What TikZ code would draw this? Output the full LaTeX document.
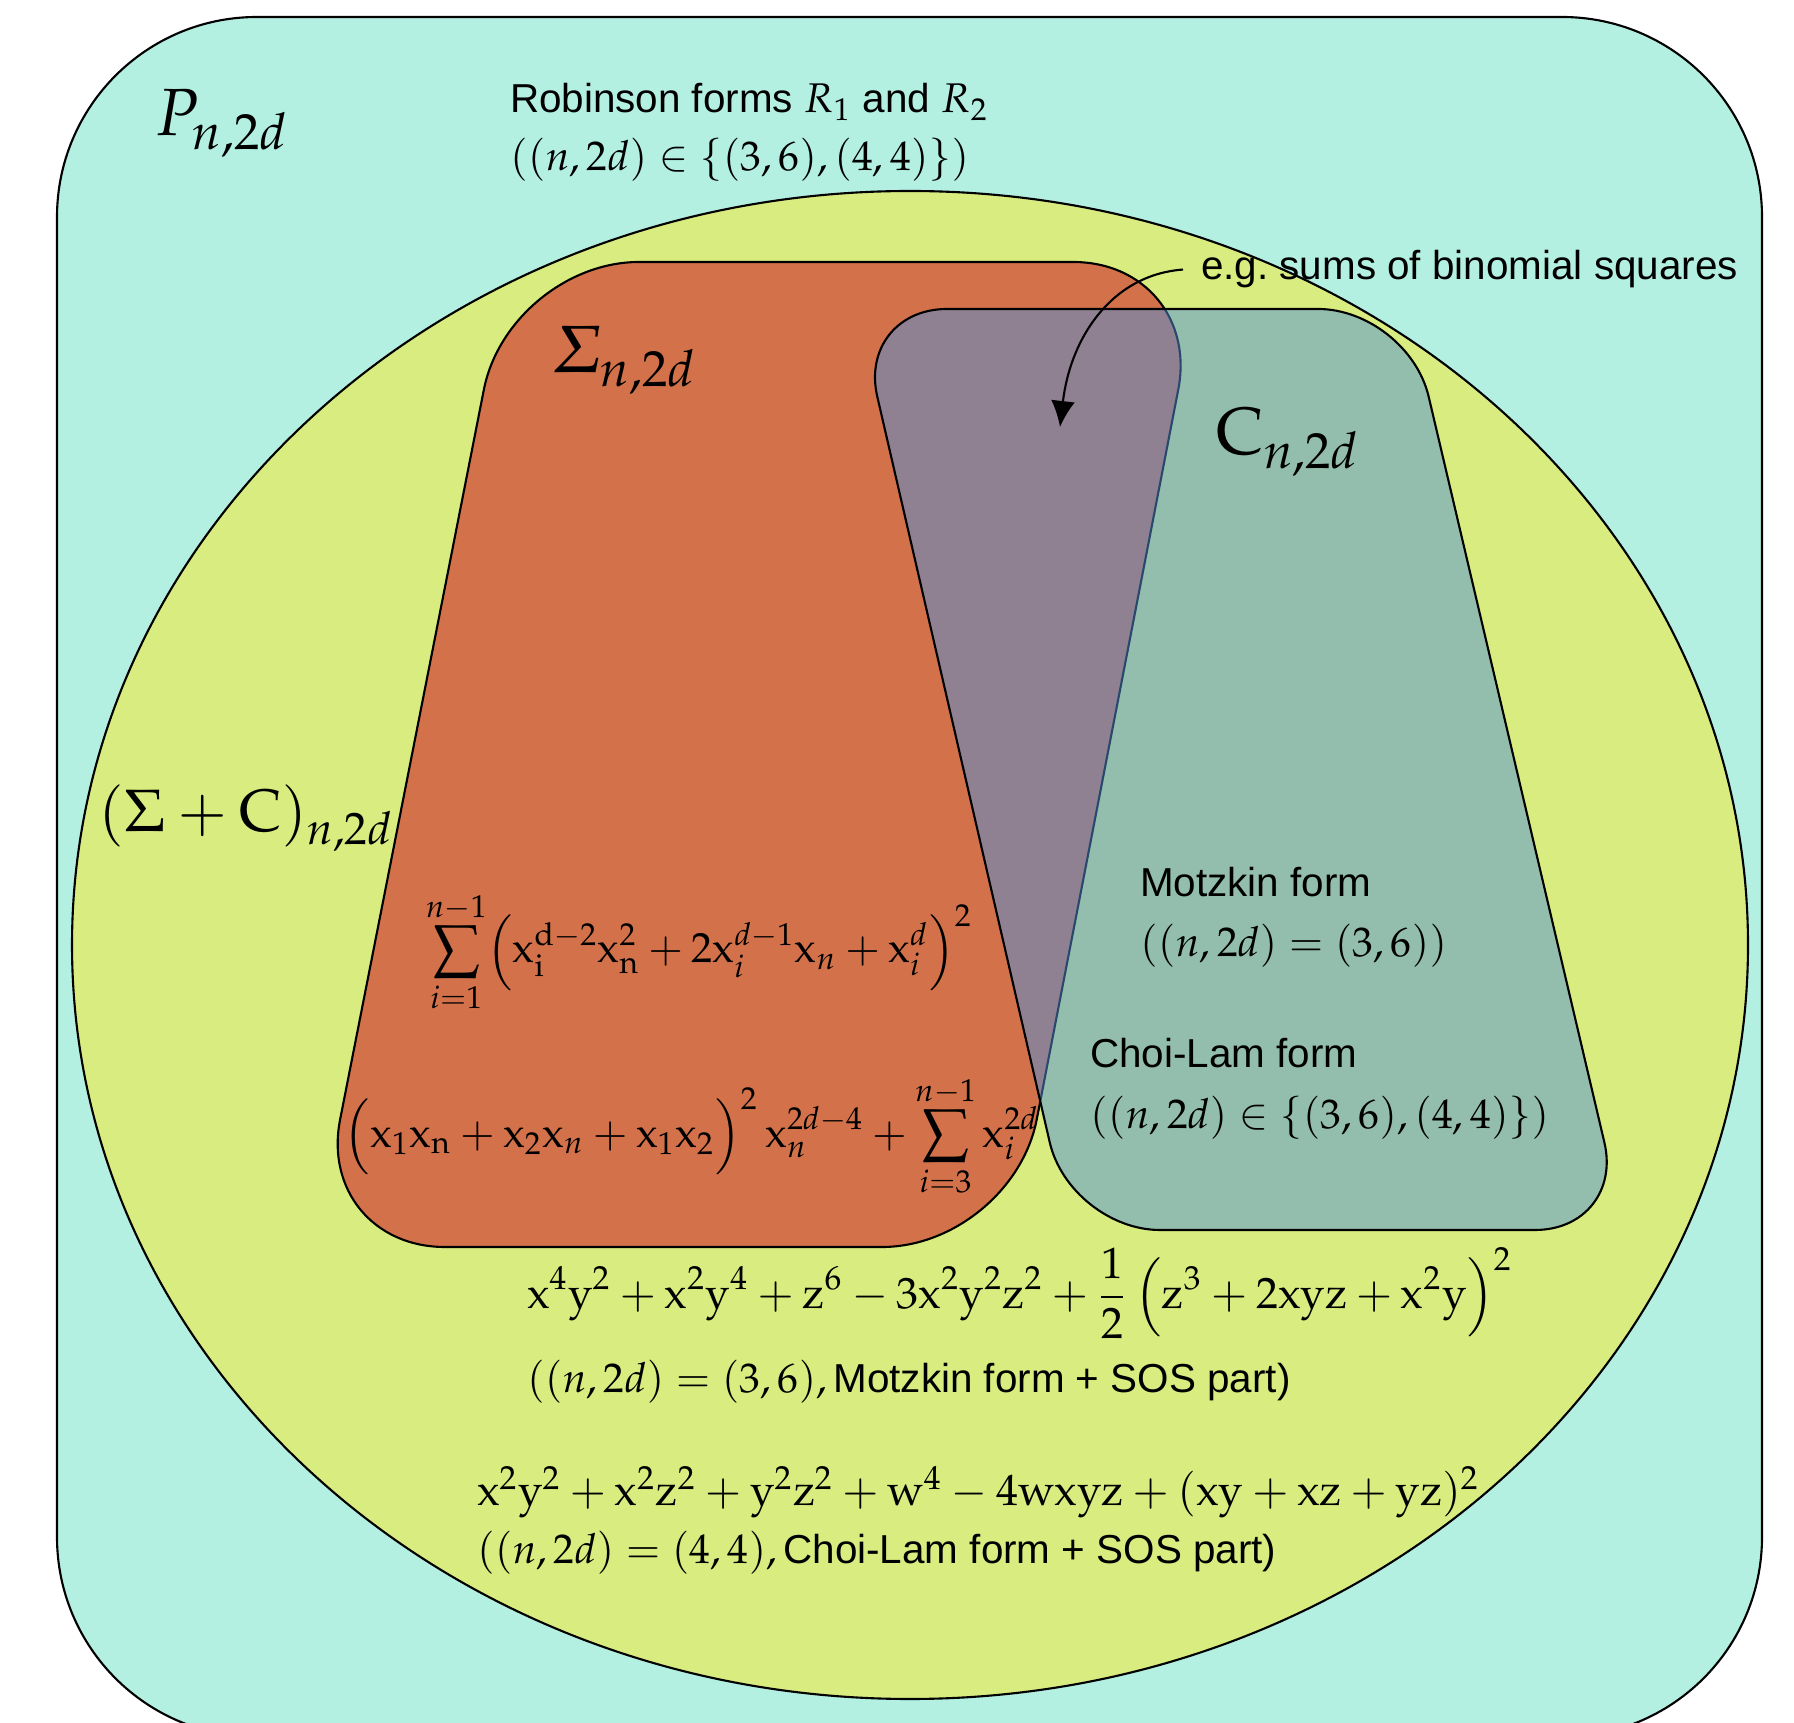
\documentclass[tikz,border=0pt]{standalone}
\usepackage{amsmath}
\usepackage{mathpazo}
\usepackage[no-math]{fontspec}
\setsansfont{Liberation Sans}
\usetikzlibrary{arrows.meta}
\DeclareMathAlphabet{\mathpit}{OT1}{pplx}{m}{it}

\definecolor{mintbg}{RGB}{179,240,226}
\definecolor{sumcone}{RGB}{216,236,128}
\definecolor{soscone}{RGB}{210,113,74}
\definecolor{convcone}{RGB}{80,145,218}
\newcommand{\setm}[1]{{\fontsize{11.8}{14}\selectfont$#1$}}

\begin{document}
\begin{tikzpicture}[
    x=0.1mm, y=-0.1mm,
    line width=0.6pt,
    setbox/.style={draw=black, line width=0.6pt},
    labtext/.style={anchor=base west, inner sep=0pt, font=\fontsize{19}{22}\selectfont},
    formtext/.style={anchor=base west, inner sep=0pt, font=\fontsize{12.5}{15}\selectfont},
    pairtext/.style={anchor=base west, inner sep=0pt, font=\fontsize{11.8}{14}\selectfont},
    sanstext/.style={anchor=base west, inner sep=0pt, font=\sffamily\fontsize{11.5}{14}\selectfont}
]
\useasboundingbox (0,0) rectangle (1794,1723);
\clip (0,0) rectangle (1794,1723);

\filldraw[setbox, fill=mintbg, rounded corners=20mm] (57,17) rectangle (1762,1737);
\filldraw[setbox, fill=sumcone] (910,945) ellipse [x radius=83.8mm, y radius=75.4mm];

\filldraw[setbox, fill=soscone, rounded corners=13mm] (509,262) -- (1203,262) -- (1012,1247) -- (315,1247) -- cycle;
\filldraw[setbox, fill=convcone, fill opacity=0.5, rounded corners=9mm] (857,309) -- (1408,309) -- (1625,1230) -- (1070,1230) -- cycle;

\node[labtext] (plab) at (154,136) {$P_{n,2d}$};
\node[labtext] (slab) at (552,373) {$\mathpit{\Sigma}_{n,2d}$};
\node[labtext] (clab) at (1215,455) {$\mathrm{C}_{n,2d}$};
\node[labtext, font=\fontsize{17}{20}\selectfont] (sclab) at (98,832) {$(\Sigma+\mathrm{C})_{n,2d}$};

\node[sanstext] (robA) at (509,113) {Robinson forms \setm{R_1} and \setm{R_2}};
\node[pairtext] (robB) at (509,171) {$((n,2d)\in\{(3,6),(4,4)\})$};

\node[sanstext] (binom) at (1200,280) {e.g.\ sums of binomial squares};
\coordinate (binomtip) at (1060,427);
\draw[-{Latex[length=2.6mm,width=2.4mm]}] ([xshift=-1.7mm]binom.west) .. controls (1110,275) and (1070,340) .. (binomtip);

\node[sanstext] (motzA) at (1139,897) {Motzkin form};
\node[pairtext] (motzB) at (1139,957) {$((n,2d)=(3,6))$};
\node[sanstext] (choiA) at (1089,1068) {Choi-Lam form};
\node[pairtext] (choiB) at (1089,1128) {$((n,2d)\in\{(3,6),(4,4)\})$};

\node[formtext, font=\fontsize{12}{14}\selectfont] (sumA) at (425,963) {$\displaystyle\sum_{i=1}^{n-1}\!\left(\mathrm{x}_{\mathrm{i}}^{\mathrm{d}-2}\mathrm{x}_{\mathrm{n}}^{2}+2\mathrm{x}_{i}^{d-1}\mathrm{x}_{n}+\mathrm{x}_{i}^{d}\right)^{2}$};
\node[formtext, font=\fontsize{12}{14}\selectfont] (sumB) at (343,1147) {$\displaystyle\left(\mathrm{x}_1\mathrm{x}_{\mathrm{n}}+\mathrm{x}_2\mathrm{x}_{n}+\mathrm{x}_1\mathrm{x}_2\vphantom{\Big(}\right)^2\mathrm{x}_{n}^{2d-4}+\sum_{i=3}^{n-1}\mathrm{x}_i^{2d}$};

\node[formtext] (motzF) at (526,1308) {$\displaystyle\mathrm{x}^4\mathrm{y}^2+\mathrm{x}^2\mathrm{y}^4+\mathrm{z}^6-3\mathrm{x}^2\mathrm{y}^2\mathrm{z}^2+\frac{1}{2}\left(\mathrm{z}^3+2\mathrm{xyz}+\mathrm{x}^2\mathrm{y}\right)^2$};
\node[sanstext] (motzC) at (526,1392) {\setm{((n,2d)=(3,6),}\,Motzkin form + SOS part)};
\node[formtext] (choiF) at (476,1505) {$\mathrm{x}^2\mathrm{y}^2+\mathrm{x}^2\mathrm{z}^2+\mathrm{y}^2\mathrm{z}^2+\mathrm{w}^4-4\mathrm{wxyz}+(\mathrm{xy}+\mathrm{xz}+\mathrm{yz})^2$};
\node[sanstext] (choiC) at (476,1563) {\setm{((n,2d)=(4,4),}\,Choi-Lam form + SOS part)};
\end{tikzpicture}
\end{document}
